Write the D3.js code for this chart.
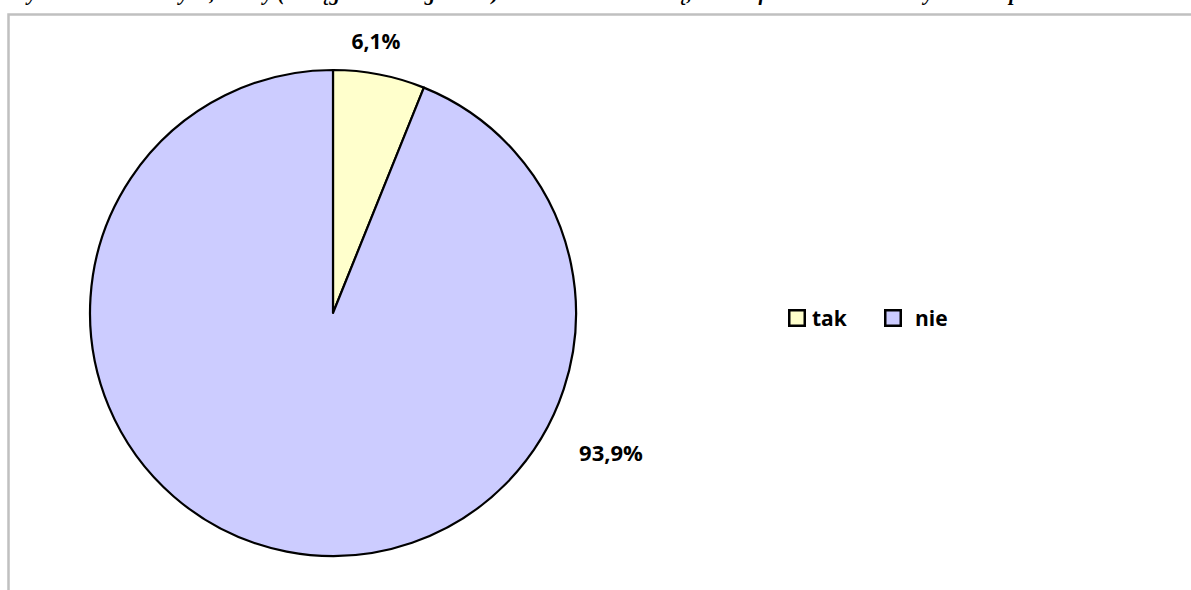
<!DOCTYPE html>
<html>
<head>
<meta charset="utf-8">
<script src="https://cdn.jsdelivr.net/npm/d3@7"></script>
<style>
  html, body { margin: 0; padding: 0; background: #ffffff; }
  svg { display: block; }
</style>
</head>
<body>
<svg id="chart" width="1191" height="590"></svg>
<script>
// ---- data ----
const categories = ["tak", "nie"];
const values = [6.1, 93.9];
const valueLabels = ["6,1%", "93,9%"];
const colors = ["#FFFFCC", "#CCCCFF"];
const title = "Wykres 4. Odsetek tych, którzy (w ciągu ostatniego roku) mieli kontakt z osobą, która oferowała im narkotyki lub dopalacze na terenie szkoły";

const svg = d3.select("#chart");
const W = 1191, H = 590;

// title (cut off at the top edge, as in the reference)
svg.append("text")
  .attr("x", 10).attr("y", 0)
  .attr("font-family", "'Liberation Serif', 'DejaVu Serif', serif")
  .attr("font-weight", "bold").attr("font-style", "italic")
  .attr("font-size", 21).attr("fill", "#000")
  .text(title);

// chart area border
svg.append("rect")
  .attr("x", 8.5).attr("y", 14.5)
  .attr("width", W + 20).attr("height", H + 20)
  .attr("fill", "none").attr("stroke", "#c0c0c0").attr("stroke-width", 2.5);

const cx = 333, cy = 313, R = 243;
const pie = d3.pie().sort(null).value(d => d.value);
const data = categories.map((c, i) => ({ cat: c, value: values[i], label: valueLabels[i], color: colors[i] }));
const arcs = pie(data);
const arc = d3.arc().innerRadius(0).outerRadius(R);

const g = svg.append("g").attr("transform", `translate(${cx},${cy})`);
g.selectAll("path").data(arcs).enter().append("path")
  .attr("d", arc)
  .attr("fill", d => d.data.color)
  .attr("stroke", "#000").attr("stroke-width", 2.2)
  .attr("stroke-linejoin", "round");

// value labels outside
const labelFont = "'Open Sans', 'Liberation Sans', sans-serif";
const labelPos = [
  { dx: 376 - cx, dy: 49 - cy },
  { dx: 611 - cx, dy: 461 - cy }
];
g.selectAll("text.val").data(arcs).enter().append("text")
  .attr("class", "val")
  .attr("x", (d, i) => labelPos[i].dx)
  .attr("y", (d, i) => labelPos[i].dy)
  .attr("text-anchor", "middle")
  .attr("font-family", labelFont).attr("font-weight", "bold")
  .attr("font-size", (d, i) => i === 0 ? 21 : 22).attr("fill", "#000")
  .text(d => d.data.label);

// legend
const legendX = [788, 884];
const legend = svg.append("g");
data.forEach((d, i) => {
  legend.append("rect")
    .attr("x", legendX[i] + 1.25).attr("y", 310.25)
    .attr("width", 15.5).attr("height", 15.5)
    .attr("fill", d.color).attr("stroke", "#000").attr("stroke-width", 2.5);
  legend.append("text")
    .attr("x", legendX[i] + (i === 0 ? 24 : 31)).attr("y", 326)
    .attr("font-family", labelFont).attr("font-weight", "bold")
    .attr("font-size", 21).attr("fill", "#000")
    .text(d.cat);
});
</script>
</body>
</html>
